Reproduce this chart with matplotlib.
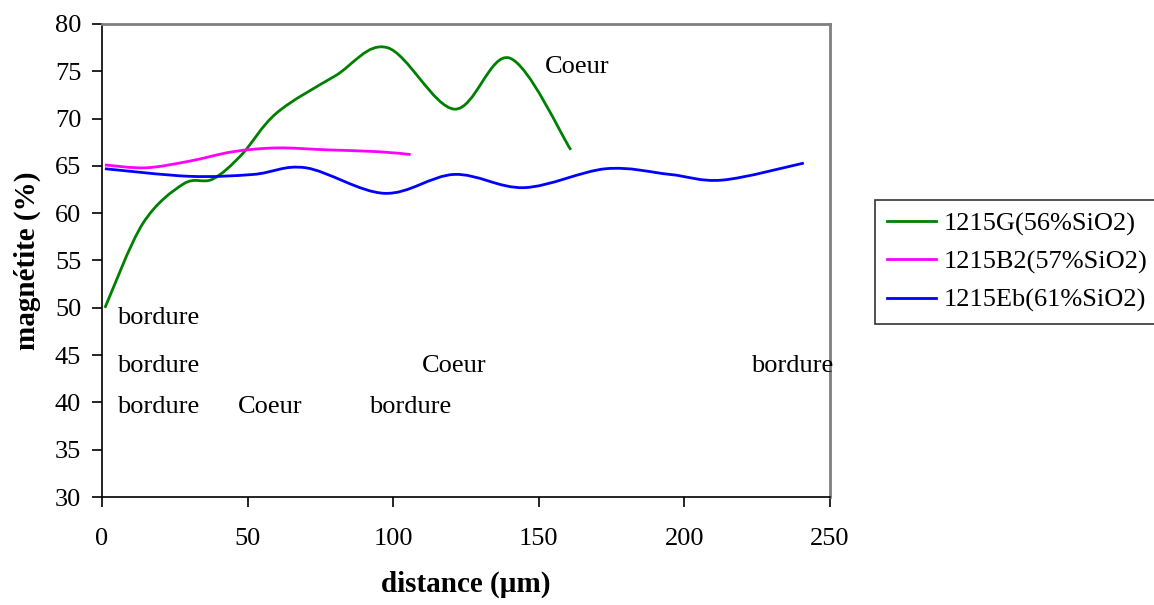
import matplotlib
matplotlib.use("Agg")
import matplotlib.pyplot as plt
from matplotlib.path import Path
from matplotlib.patches import PathPatch
from matplotlib.lines import Line2D

plt.rcParams['font.family'] = ['Liberation Serif', 'DejaVu Serif']

# data
g_x = [1, 14, 28, 38, 48, 60, 80, 98, 121, 140, 161]
g_y = [50, 58.9, 63.1, 63.6, 66.2, 70.6, 74.5, 77.5, 71.0, 76.4, 66.7]
m_x = [1, 15, 30, 45, 60, 77, 95, 106]
m_y = [65.1, 64.8, 65.5, 66.5, 66.9, 66.7, 66.5, 66.2]
b_x = [1, 30, 52, 70, 97, 121, 145, 173, 195, 213, 241]
b_y = [64.7, 63.9, 64.1, 64.8, 62.1, 64.1, 62.7, 64.7, 64.1, 63.5, 65.3]

series_names = ['1215G(56%SiO2)', '1215B2(57%SiO2)', '1215Eb(61%SiO2)']
series_colors = ['#008000', '#FF00FF', '#0000FF']

ann_texts = ['bordure', 'bordure', 'bordure', 'Coeur', 'bordure', 'Coeur', 'bordure', 'Coeur']
ann_x = [5.2, 5.2, 5.2, 46.7, 91.7, 109.9, 222.9, 152.1]
ann_y = [48.9, 43.8, 39.5, 39.5, 39.5, 43.8, 43.8, 75.45]


def smooth_path(xs, ys):
    pts = list(zip(xs, ys))
    n = len(pts)
    verts = [pts[0]]
    codes = [Path.MOVETO]
    for i in range(n - 1):
        p0 = pts[i - 1] if i > 0 else pts[i]
        p1 = pts[i]
        p2 = pts[i + 1]
        p3 = pts[i + 2] if i + 2 < n else pts[i + 1]
        c1 = (p1[0] + (p2[0] - p0[0]) / 6, p1[1] + (p2[1] - p0[1]) / 6)
        c2 = (p2[0] - (p3[0] - p1[0]) / 6, p2[1] - (p3[1] - p1[1]) / 6)
        verts += [c1, c2, p2]
        codes += [Path.CURVE4] * 3
    return Path(verts, codes)


fig = plt.figure(figsize=(11.54, 6.05), dpi=100)
ax = fig.add_axes([102 / 1154, 108 / 605, 728 / 1154, 473 / 605])

for xs, ys, c in zip([g_x, m_x, b_x], [g_y, m_y, b_y], series_colors):
    ax.add_patch(PathPatch(smooth_path(xs, ys), facecolor='none', edgecolor=c,
                           lw=2.0, capstyle='butt'))

ax.set_xlim(0, 250)
ax.set_ylim(30, 80)
ax.set_xticks(range(0, 251, 50))
ax.set_yticks(range(30, 81, 5))
ax.tick_params(direction='out', length=7, width=1.2, labelsize=19)
ax.tick_params(axis='x', pad=15)
ax.tick_params(axis='y', pad=8)

for s in ['left', 'bottom']:
    ax.spines[s].set_color('black')
    ax.spines[s].set_linewidth(1.2)
for s in ['top', 'right']:
    ax.spines[s].set_color('#808080')
    ax.spines[s].set_linewidth(2)

for t, x, y in zip(ann_texts, ann_x, ann_y):
    ax.text(x, y, t, fontsize=19, ha='left', va='center')

ax.set_xlabel('distance (µm)', fontsize=21, fontweight='bold', labelpad=15)
ax.set_ylabel('magnétite (%)', fontsize=21, fontweight='bold', labelpad=10)

handles = [Line2D([], [], color=c, lw=2.0) for c in series_colors]
leg = fig.legend(handles, series_names, loc='center left',
                 bbox_to_anchor=(875 / 1154, (605 - 262) / 605),
                 fontsize=19, frameon=True, fancybox=False, edgecolor='black',
                 handlelength=1.85, handletextpad=0.3, borderpad=0.45,
                 labelspacing=0.55, borderaxespad=0)
leg.get_frame().set_linewidth(1.2)

fig.savefig('out.png', dpi=100)
